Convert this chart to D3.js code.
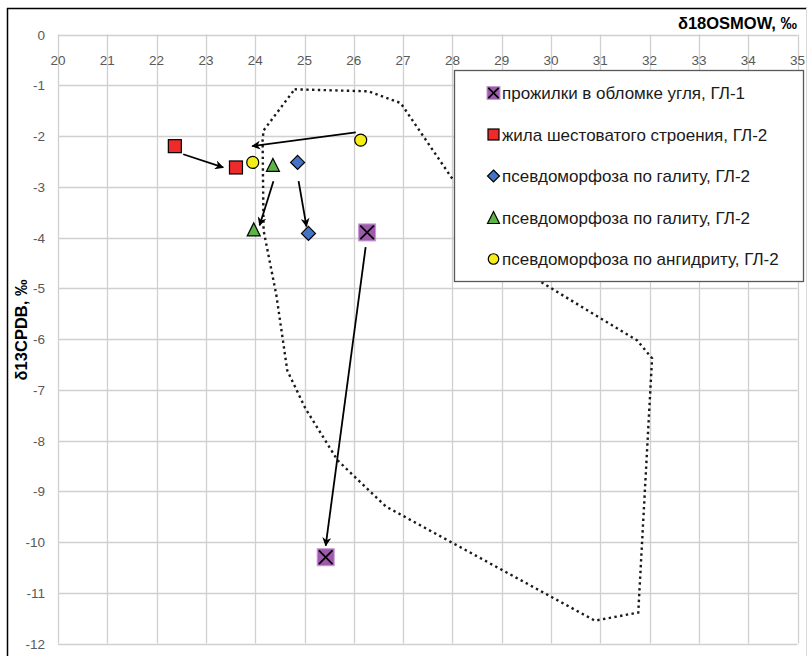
<!DOCTYPE html>
<html>
<head>
<meta charset="utf-8">
<script src="https://cdn.jsdelivr.net/npm/d3@7"></script>
<style>
  body { margin: 0; background: #fff; }
  svg { display: block; }
</style>
</head>
<body>
<script>
let width = 807,
    height = 656

// axis domains and ticks
const xTicks = d3.range(20, 36)
const yTicks = d3.range(0, -13, -1)

// series: δ18O (x) and δ13C (y), two samples each
const coalVeinX = [26.27, 25.43], coalVeinY = [-3.90, -10.30]
const columnarX = [22.37, 23.61], columnarY = [-2.20, -2.62]
const haliteAX = [24.86, 25.08], haliteAY = [-2.52, -3.92]
const haliteBX = [24.36, 23.97], haliteBY = [-2.57, -3.84]
const anhydriteX = [23.95, 26.14], anhydriteY = [-2.52, -2.08]

const legendLabels = [
  'прожилки в обломке угля, ГЛ-1',
  'жила шестоватого строения, ГЛ-2',
  'псевдоморфоза по галиту, ГЛ-2',
  'псевдоморфоза по галиту, ГЛ-2',
  'псевдоморфоза по ангидриту, ГЛ-2'
]

// arrows [x1, y1, x2, y2] in data units
const arrowsFrom = [[26.24, -4.19], [22.54, -2.36], [26.04, -1.93], [24.37, -2.89], [24.88, -2.89]]
const arrowsTo = [[25.43, -10.07], [23.35, -2.62], [23.94, -2.20], [24.09, -3.76], [25.04, -3.78]]

// dotted field outline
const fieldX = [24.80, 26.30, 26.95, 27.99, 29.80, 31.75, 32.05, 31.77, 30.89, 26.65, 25.67, 25.02, 24.65, 24.43, 24.17, 24.15, 24.17]
const fieldY = [-1.08, -1.12, -1.35, -2.83, -4.88, -6.03, -6.38, -11.39, -11.55, -9.30, -8.39, -7.37, -6.62, -5.14, -3.86, -2.08, -1.89]

const x = d3.scaleLinear().domain([20, 35]).range([58, 797.5])
const y = d3.scaleLinear().domain([0, -12]).range([34.5, 643.5])

let svg = d3.select('body').append('svg')
  .attr('width', width)
  .attr('height', height)

svg.append('defs').append('marker')
  .attr('id', 'arrow')
  .attr('viewBox', '0 0 10 10')
  .attr('refX', 9)
  .attr('refY', 5)
  .attr('markerWidth', 9)
  .attr('markerHeight', 9)
  .attr('markerUnits', 'userSpaceOnUse')
  .attr('orient', 'auto')
  .append('path')
  .attr('d', 'M0,0 L10,5 L0,10 L3,5 Z')
  .style('fill', '#000')

// outer frame
svg.append('line').attr('x1', 7.5).attr('x2', 7.5).attr('y1', 8).attr('y2', height)
  .style('stroke', '#000').style('stroke-width', 1.5)
svg.append('line').attr('x1', 7).attr('x2', width).attr('y1', 8.5).attr('y2', 8.5)
  .style('stroke', '#000').style('stroke-width', 1.5)
svg.append('line').attr('x1', 806.5).attr('x2', 806.5).attr('y1', 8).attr('y2', height)
  .style('stroke', '#d9d9d9').style('stroke-width', 1)

// grid
let grid = svg.append('g').attr('class', 'grid')
grid.selectAll('.vline').data(xTicks).enter().append('line')
  .attr('x1', d => Math.round(x(d)) + 0.5).attr('x2', d => Math.round(x(d)) + 0.5)
  .attr('y1', y(0)).attr('y2', y(-12))
  .style('stroke', '#d0d0d0').style('stroke-width', 1.3)
grid.selectAll('.hline').data(yTicks).enter().append('line')
  .attr('y1', d => Math.round(y(d)) + 0.5).attr('y2', d => Math.round(y(d)) + 0.5)
  .attr('x1', x(20)).attr('x2', x(35))
  .style('stroke', '#d0d0d0').style('stroke-width', 1.3)

// tick labels
const tickFont = '"Liberation Sans", Arial, sans-serif'
svg.append('g').selectAll('text').data(xTicks).enter().append('text')
  .attr('x', d => x(d)).attr('y', 65)
  .attr('text-anchor', 'middle')
  .style('font-family', tickFont).style('font-size', '13.5px').style('fill', '#595959')
  .text(d => d)
svg.append('g').selectAll('text').data(yTicks).enter().append('text')
  .attr('x', 45).attr('y', d => y(d) + 5)
  .attr('text-anchor', 'end')
  .style('font-family', tickFont).style('font-size', '13.5px').style('fill', '#595959')
  .text(d => d === 0 ? '0' : '-' + Math.abs(d))

// axis titles
svg.append('text')
  .attr('x', 797).attr('y', 29)
  .attr('text-anchor', 'end')
  .style('font-family', tickFont).style('font-size', '16.5px').style('font-weight', 'bold')
  .text('δ18OSMOW, ‰')
svg.append('text')
  .attr('transform', 'translate(27,330) rotate(-90)')
  .attr('text-anchor', 'middle')
  .style('font-family', tickFont).style('font-size', '16.5px').style('font-weight', 'bold')
  .text('δ13CPDB, ‰')

// field outline
let line = d3.line().x(d => x(d[0])).y(d => y(d[1]))
svg.append('path')
  .datum(d3.zip(fieldX, fieldY).concat([[fieldX[0], fieldY[0]]]))
  .attr('d', line)
  .style('fill', 'none')
  .style('stroke', '#1a1a1a')
  .style('stroke-width', 2.4)
  .style('stroke-dasharray', '2.4,3.4')

// legend box (white, covers outline)
let legend = svg.append('g').attr('class', 'legend')
legend.append('rect')
  .attr('x', 454.5).attr('y', 70.5).attr('width', 349).attr('height', 211)
  .style('fill', '#fff').style('stroke', '#595959').style('stroke-width', 1.3)

// marker drawing helpers
function drawMarker(g, kind, s) {
  if (kind === 'xsquare') {
    g.append('rect').attr('x', -s / 2).attr('y', -s / 2).attr('width', s).attr('height', s)
      .style('fill', '#9e5aad').style('stroke', '#c69ad2').style('stroke-width', 1)
    const k = s * 0.4
    g.append('path').attr('d', `M${-k},${-k}L${k},${k}M${-k},${k}L${k},${-k}`)
      .style('stroke', '#000').style('stroke-width', 1.7)
  } else if (kind === 'square') {
    g.append('rect').attr('x', -s / 2).attr('y', -s / 2).attr('width', s).attr('height', s)
      .style('fill', '#ee2a2a').style('stroke', '#000').style('stroke-width', 1.2)
  } else if (kind === 'diamond') {
    const h = s / 2
    g.append('path').attr('d', `M0,${-h}L${h},0L0,${h}L${-h},0Z`)
      .style('fill', '#4472c4').style('stroke', '#000').style('stroke-width', 1.2)
  } else if (kind === 'triangle') {
    const h = s / 2
    g.append('path').attr('d', `M0,${-h}L${h},${h}L${-h},${h}Z`)
      .style('fill', '#5cb446').style('stroke', '#000').style('stroke-width', 1.2)
  } else {
    g.append('circle').attr('r', s / 2)
      .style('fill', '#f5ec1a').style('stroke', '#000').style('stroke-width', 1.2)
  }
}

const kinds = ['xsquare', 'square', 'diamond', 'triangle', 'circle']
const plotSizes = [17, 13, 14, 13, 12]
const legendSizes = [13, 11, 12, 12, 10.5]
const seriesX = [coalVeinX, columnarX, haliteAX, haliteBX, anhydriteX]
const seriesY = [coalVeinY, columnarY, haliteAY, haliteBY, anhydriteY]

legendLabels.forEach((label, i) => {
  const ly = 93 + i * 41.5
  let g = legend.append('g').attr('transform', `translate(493.5,${ly})`)
  drawMarker(g, kinds[i], legendSizes[i])
  legend.append('text')
    .attr('x', 502).attr('y', ly + 6)
    .style('font-family', tickFont).style('font-size', '17px').style('fill', '#1a1a1a')
    .text(label)
})

// arrows
svg.append('g').selectAll('line').data(d3.zip(arrowsFrom, arrowsTo)).enter().append('line')
  .attr('x1', d => x(d[0][0])).attr('y1', d => y(d[0][1]))
  .attr('x2', d => x(d[1][0])).attr('y2', d => y(d[1][1]))
  .style('stroke', '#000').style('stroke-width', 1.8)
  .attr('marker-end', 'url(#arrow)')

// points
seriesX.forEach((xs, i) => {
  xs.forEach((xv, j) => {
    let g = svg.append('g').attr('transform', `translate(${x(xv)},${y(seriesY[i][j])})`)
    drawMarker(g, kinds[i], plotSizes[i])
  })
})
</script>
</body>
</html>
